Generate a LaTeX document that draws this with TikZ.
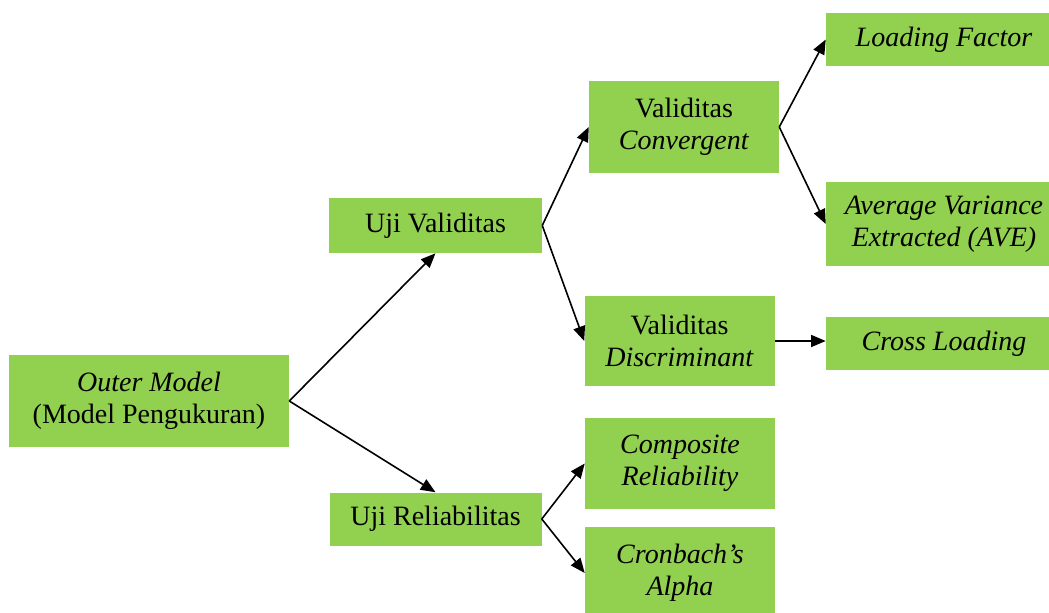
\documentclass[tikz,border=0pt]{standalone}
\usepackage{fontspec}
\setmainfont{Liberation Serif}
\usetikzlibrary{arrows.meta}
\definecolor{hijau}{HTML}{92D050}
\tikzset{
  kotak/.style={fill=hijau, draw=none, inner sep=0pt, align=center},
  panah/.style={-{Triangle[length=11pt,width=9pt]}, line width=1.2pt}
}
\begin{document}
\begin{tikzpicture}[x=0.75pt,y=0.75pt,font=\fontsize{21}{24}\selectfont]
  \useasboundingbox (0,0) rectangle (1049,612);
  \clip (0,0) rectangle (1049,612);
  % kolom pertama
  \node[kotak, minimum width=210pt, minimum height=69pt] (outer) at (149,211) {\textit{Outer Model}\\(Model Pengukuran)};
  % kolom kedua
  \node[kotak, minimum width=159.75pt, minimum height=41.25pt] (validitas) at (435.5,386.5) {Uji Validitas};
  \node[kotak, minimum width=159pt, minimum height=39.75pt] (reliabilitas) at (435.5,93) {Uji Reliabilitas};
  % kolom ketiga
  \node[kotak, minimum width=142.5pt, minimum height=69pt] (konvergen) at (684,485) {Validitas\\\textit{Convergent}};
  \node[kotak, minimum width=142.5pt, minimum height=67.5pt] (diskriminan) at (679.5,271) {Validitas\\\textit{Discriminant}};
  \node[kotak, minimum width=142.5pt, minimum height=68.25pt] (komposit) at (680,148.5) {\textit{Composite}\\\textit{Reliability}};
  \node[kotak, minimum width=142.5pt, minimum height=69pt] (cronbach) at (680,39) {\textit{Cronbach’s}\\\textit{Alpha}};
  % kolom keempat
  \node[kotak, minimum width=177pt, minimum height=39.75pt] (loading) at (944,572.5) {\textit{Loading Factor}};
  \node[kotak, minimum width=177pt, minimum height=63pt] (ave) at (944,388) {\textit{Average Variance}\\\textit{Extracted (AVE)}};
  \node[kotak, minimum width=177pt, minimum height=39.75pt] (cross) at (944,268.5) {\textit{Cross Loading}};
  % panah
  \draw[panah] (outer.east) -- (validitas.south);
  \draw[panah] (outer.east) -- (reliabilitas.north);
  \draw[panah] (validitas.east) -- (konvergen.west);
  \draw[panah] (validitas.east) -- (diskriminan.west);
  \draw[panah] (reliabilitas.east) -- (komposit.west);
  \draw[panah] (reliabilitas.east) -- (cronbach.west);
  \draw[panah] (konvergen.east) -- (loading.west);
  \draw[panah] (konvergen.east) -- (ave.west);
  \draw[panah] (diskriminan.east) -- (diskriminan.east -| cross.west);
\end{tikzpicture}
\end{document}
